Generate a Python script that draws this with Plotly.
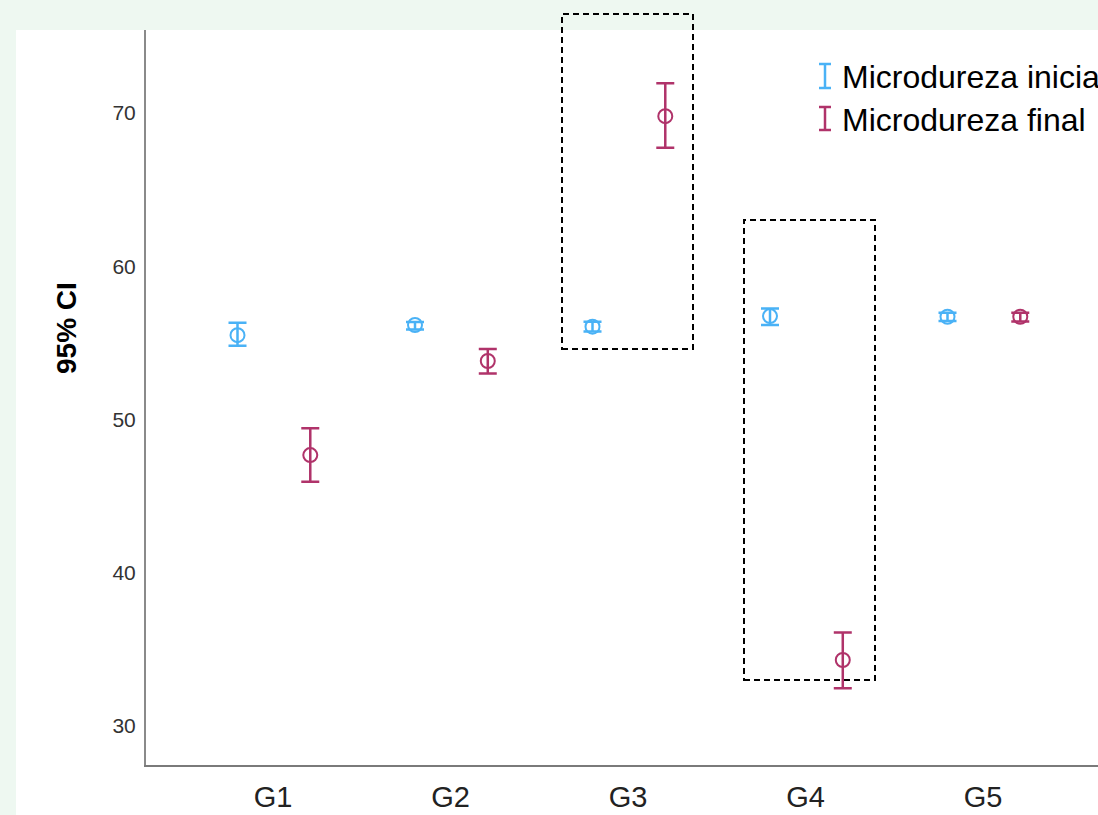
import plotly.graph_objects as go

# ---- data ----
groups = ["G1", "G2", "G3", "G4", "G5"]
ini_mean = [55.51, 56.17, 56.06, 56.75, 56.71]
ini_hi = [56.32, 56.37, 56.39, 57.24, 56.97]
ini_lo = [54.81, 55.88, 55.74, 56.17, 56.43]
fin_mean = [47.68, 53.82, 69.80, 34.31, 56.71]
fin_hi = [49.43, 54.60, 71.94, 36.11, 56.97]
fin_lo = [45.94, 53.01, 67.74, 32.46, 56.40]
y_ticks = [30, 40, 50, 60, 70]
series_names = ["Microdureza inicial", "Microdureza final"]

BLUE = "#4ab2f6"
RED = "#b0336a"
W, H = 1098, 815
L, R, T, B = 146, 0, 30, 50
PW, PH = W - L - R, H - T - B


def px_x(px):
    return (px - L) / PW


def px_y(py):
    return (H - B - py) / PH


idx = list(range(len(groups)))
off_i, off_f = -0.2, 0.21

fig = go.Figure()
for name, mean, hi, lo, col, off in [
    (series_names[0], ini_mean, ini_hi, ini_lo, BLUE, off_i),
    (series_names[1], fin_mean, fin_hi, fin_lo, RED, off_f),
]:
    fig.add_trace(go.Scatter(
        x=[i + off for i in idx], y=mean, mode="markers", name=name,
        marker=dict(symbol="circle-open", size=14, color=col, line=dict(width=2, color=col)),
        error_y=dict(type="data", symmetric=False,
                     array=[h - m for h, m in zip(hi, mean)],
                     arrayminus=[m - l for m, l in zip(mean, lo)],
                     color=col, thickness=2.5, width=9),
        showlegend=False,
    ))

shapes = []
# white panel
shapes.append(dict(type="rect", xref="paper", yref="paper", x0=px_x(16), x1=1.0,
                   y0=px_y(H), y1=1.0, fillcolor="white", line=dict(width=0), layer="below"))
# dashed boxes
for x0, x1, y0, y1 in [(562, 693, 14, 349), (744, 875, 220, 680)]:
    shapes.append(dict(type="rect", xref="paper", yref="paper",
                       x0=px_x(x0), x1=px_x(x1), y0=px_y(y1), y1=px_y(y0),
                       line=dict(color="black", width=2, dash="6px,4px"),
                       fillcolor="rgba(0,0,0,0)", layer="above"))
# legend glyphs
for col, ytop, ybot in [(BLUE, 64, 88), (RED, 107, 130)]:
    cx = 825
    shapes.append(dict(type="line", xref="paper", yref="paper", x0=px_x(cx), x1=px_x(cx),
                       y0=px_y(ybot), y1=px_y(ytop), line=dict(color=col, width=2.5)))
    for yy in (ytop, ybot):
        shapes.append(dict(type="line", xref="paper", yref="paper", x0=px_x(cx - 6), x1=px_x(cx + 6),
                           y0=px_y(yy), y1=px_y(yy), line=dict(color=col, width=2.5)))

annotations = []
for name, yc in [(series_names[0], 77), (series_names[1], 120)]:
    annotations.append(dict(text=name, xref="paper", yref="paper", x=px_x(840), y=px_y(yc),
                            xanchor="left", yanchor="middle", showarrow=False,
                            font=dict(size=32, color="black", family="Arial, Liberation Sans")))
annotations.append(dict(text="<b>95% CI</b>", xref="paper", yref="paper", x=px_x(66), y=px_y(328),
                        xanchor="center", yanchor="middle", textangle=-90, showarrow=False,
                        font=dict(size=28, color="black", family="Arial, Liberation Sans")))

fig.update_layout(
    width=W, height=H,
    margin=dict(l=L, r=R, t=T, b=B, pad=0, autoexpand=False),
    paper_bgcolor="#eef8f1", plot_bgcolor="white",
    font=dict(family="Arial, Liberation Sans", color="#222"),
    shapes=shapes, annotations=annotations, showlegend=False,
    xaxis=dict(range=[(L - 273) / 177.5, (W - 273) / 177.5], tickvals=idx, ticktext=groups,
               showgrid=False, zeroline=False, showline=True, linecolor="#7a7a7a", linewidth=2,
               ticks="", tickfont=dict(size=29, color="#222"), ticklabelstandoff=5),
    yaxis=dict(range=[27.46, 75.42], tickvals=y_ticks, showgrid=False, zeroline=False,
               showline=True, linecolor="#8a8a8a", linewidth=2, ticks="",
               tickfont=dict(size=21, color="#333"), ticklabelstandoff=4),
)
fig.write_html("out.html", config={"displayModeBar": False},
               post_script="document.body.style.margin='0';document.body.style.overflow='hidden';")
